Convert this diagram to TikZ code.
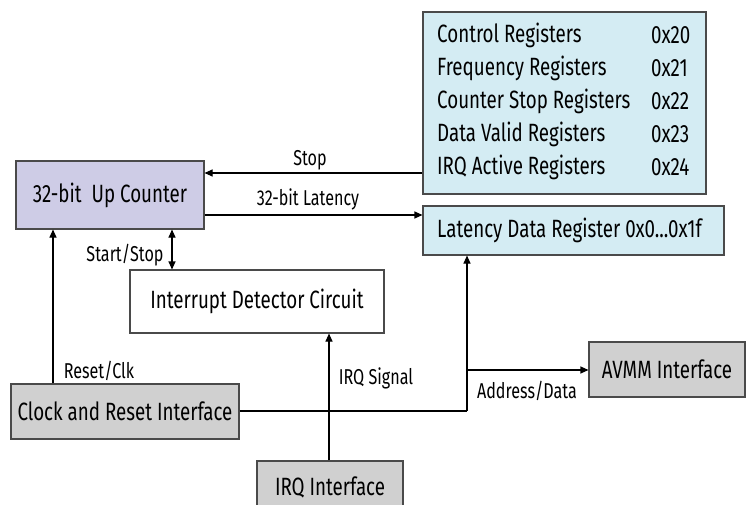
\documentclass[tikz,border=0pt]{standalone}
\usepackage{fontspec}
\setmainfont{Fira Sans}[FakeStretch=0.75]
\usetikzlibrary{arrows.meta}
\definecolor{cnt}{HTML}{CECCE6}
\definecolor{reg}{HTML}{D4ECF3}
\definecolor{gry}{HTML}{D0D0D0}
\definecolor{bdr}{HTML}{4A4A4A}
\tikzset{
  box/.style={draw=bdr, line width=1.1pt, inner sep=0pt, font=\fontsize{25}{28}\selectfont},
  lbl/.style={inner sep=0pt, font=\fontsize{21.5}{24}\selectfont},
  rtxt/.style={inner sep=0pt, anchor=west, font=\fontsize{25}{28}\selectfont},
  arr/.style={line width=1.1pt, -{Triangle[length=8pt,width=7pt]}},
  dbl/.style={line width=1.1pt, {Triangle[length=8pt,width=7pt]}-{Triangle[length=8pt,width=7pt]}},
  ln/.style={line width=1.1pt},
}
\begin{document}
\begin{tikzpicture}[x=1pt,y=-1pt]
\clip (0,0) rectangle (746,505);
\fill[white] (0,0) rectangle (746,505);
% boxes
\node[box, fill=cnt, minimum width=188pt, minimum height=68pt] (counter) at (110,195) {32-bit\ \ Up Counter};
\node[box, fill=reg, minimum width=283pt, minimum height=182pt] (regs) at (564.5,103) {};
\node[box, fill=reg, minimum width=301pt, minimum height=49pt] (latency) at (573.5,230.5) {};
\node[rtxt] (lattxt) at (437,230.5) {Latency Data Register 0x0...0x1f};
\node[box, fill=white, minimum width=254pt, minimum height=63pt] (intr) at (257,301.5) {Interrupt Detector Circuit};
\node[box, fill=gry, minimum width=228pt, minimum height=55pt] (clock) at (125,411.5) {Clock and Reset Interface};
\node[box, fill=gry, minimum width=146pt, minimum height=64pt] (irq) at (330,493) {};
\node[inner sep=0pt, font=\fontsize{25}{28}\selectfont] (irqtxt) at (330,487) {IRQ Interface};
\node[box, fill=gry, minimum width=156pt, minimum height=55pt] (avmm) at (667,369.5) {AVMM Interface};
% register rows
\node[rtxt] (r1) at (437,35) {Control Registers};
\node[rtxt] (r2) at (437,68) {Frequency Registers};
\node[rtxt] (r3) at (437,101) {Counter Stop Registers};
\node[rtxt] (r4) at (437,134) {Data Valid Registers};
\node[rtxt] (r5) at (437,167) {IRQ Active Registers};
\node[rtxt] (h1) at (651,35) {0x20};
\node[rtxt] (h2) at (651,68) {0x21};
\node[rtxt] (h3) at (651,101) {0x22};
\node[rtxt] (h4) at (651,134) {0x23};
\node[rtxt] (h5) at (651,167) {0x24};
% junction coordinates
\coordinate (jc) at (467,411);
\coordinate (ja) at (467,370);
% connectors
\draw[arr] (regs.west |- 0,173) -- (counter.east |- 0,173);
\draw[arr] (counter.east |- 0,215) -- (latency.west |- 0,215);
\draw[dbl] (counter.south -| 172,0) -- (intr.north -| 172,0);
\draw[arr] (clock.north -| 53,0) -- (counter.south -| 53,0);
\draw[arr] (irq.north -| 329,0) -- (intr.south -| 329,0);
\draw[ln] (clock.east |- jc) -- (jc);
\draw[arr] (jc) -- (latency.south -| jc);
\draw[arr] (ja) -- (avmm.west |- ja);
% labels
\node[lbl] (lstop) at (310,160) {Stop};
\node[lbl] (llat) at (308,199) {32-bit Latency};
\node[lbl] (lss) at (125,255) {Start/Stop};
\node[lbl] (lrc) at (99,371) {Reset/Clk};
\node[lbl] (lirq) at (376,378) {IRQ Signal};
\node[lbl] (lad) at (527,391) {Address/Data};
\end{tikzpicture}
\end{document}
